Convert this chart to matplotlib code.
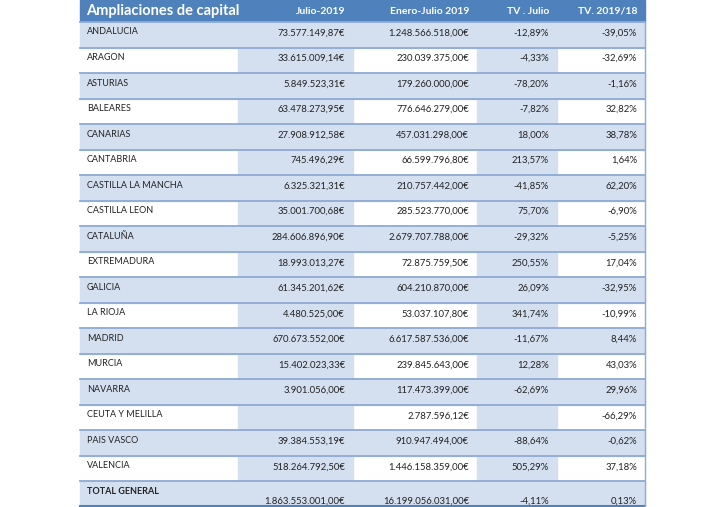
import matplotlib
matplotlib.use("Agg")
import matplotlib.pyplot as plt
from matplotlib.patches import Rectangle

# ---- data ----
headers = ["Ampliaciones de capital", "Julio-2019", "Enero-Julio 2019", "TV . Julio", "TV. 2019/18"]
regions = ["ANDALUCIA", "ARAGON", "ASTURIAS", "BALEARES", "CANARIAS", "CANTABRIA",
           "CASTILLA LA MANCHA", "CASTILLA LEON", "CATALUÑA", "EXTREMADURA", "GALICIA",
           "LA RIOJA", "MADRID", "MURCIA", "NAVARRA", "CEUTA Y MELILLA", "PAIS VASCO",
           "VALENCIA", "TOTAL GENERAL"]
julio = ["73.577.149,87€", "33.615.009,14€", "5.849.523,31€", "63.478.273,95€", "27.908.912,58€",
         "745.496,29€", "6.325.321,31€", "35.001.700,68€", "284.606.896,90€", "18.993.013,27€",
         "61.345.201,62€", "4.480.525,00€", "670.673.552,00€", "15.402.023,33€", "3.901.056,00€",
         "", "39.384.553,19€", "518.264.792,50€", "1.863.553.001,00€"]
enero_julio = ["1.248.566.518,00€", "230.039.375,00€", "179.260.000,00€", "776.646.279,00€",
               "457.031.298,00€", "66.599.796,80€", "210.757.442,00€", "285.523.770,00€",
               "2.679.707.788,00€", "72.875.759,50€", "604.210.870,00€", "53.037.107,80€",
               "6.617.587.536,00€", "239.845.643,00€", "117.473.399,00€", "2.787.596,12€",
               "910.947.494,00€", "1.446.158.359,00€", "16.199.056.031,00€"]
tv_julio = ["-12,89%", "-4,33%", "-78,20%", "-7,82%", "18,00%", "213,57%", "-41,85%", "75,70%",
            "-29,32%", "250,55%", "26,09%", "341,74%", "-11,67%", "12,28%", "-62,69%", "",
            "-88,64%", "505,29%", "-4,11%"]
tv_anual = ["-39,05%", "-32,69%", "-1,16%", "32,82%", "38,78%", "1,64%", "62,20%", "-6,90%",
            "-5,25%", "17,04%", "-32,95%", "-10,99%", "8,44%", "43,03%", "29,96%", "-66,29%",
            "-0,62%", "37,18%", "0,13%"]

# ---- layout (pixels) ----
col_x = [80, 238, 353, 477, 557, 645]
header_h = 22
row_h = (507 - header_h) / len(regions)
blue = "#4f81bd"
light = "#d4e0f0"
line = "#8eaad3"

fig = plt.figure(figsize=(7.2, 5.07), dpi=100)
ax = fig.add_axes([0, 0, 1, 1])
ax.set_xlim(0, 720)
ax.set_ylim(507, 0)
ax.axis("off")

# header
ax.add_patch(Rectangle((col_x[0], 0), col_x[-1] - col_x[0], header_h, color=blue))
ax.text(col_x[0] + 6, header_h / 2, headers[0], color="white", fontsize=10.5,
        fontweight="bold", va="center", ha="left", family="Lato")
for j in range(1, 5):
    ax.text(col_x[j + 1] - 8, header_h / 2, headers[j], color="white", fontsize=7.5,
            fontweight="bold", va="center", ha="right", family="Lato")

cols = [julio, enero_julio, tv_julio, tv_anual]
for i, name in enumerate(regions):
    y0 = header_h + i * row_h
    if i % 2 == 0:
        ax.add_patch(Rectangle((col_x[0], y0), col_x[-1] - col_x[0], row_h, color=light))
    else:
        for j in (1, 3):
            ax.add_patch(Rectangle((col_x[j], y0), col_x[j + 1] - col_x[j], row_h, color=light))
    ax.plot([col_x[0], col_x[-1]], [y0, y0], color=line, lw=1.3)
    is_total = name == "TOTAL GENERAL"
    ax.text(col_x[0] + 7, y0 + 10, name, fontsize=6.5, va="center", ha="left", family="Lato",
            fontweight="bold" if is_total else "normal", color="#222222")
    vy = y0 + (row_h - 6 if is_total else 11)
    for j, vals in enumerate(cols):
        ax.text(col_x[j + 2] - 8, vy, vals[i], fontsize=6.8, va="center", ha="right",
                family="Lato", color="#222222")
ax.plot([col_x[0], col_x[-1]], [506, 506], color=blue, lw=1.5)
ax.plot([col_x[-1], col_x[-1]], [header_h, 507], color=line, lw=1)

fig.savefig("out.png", dpi=100)
